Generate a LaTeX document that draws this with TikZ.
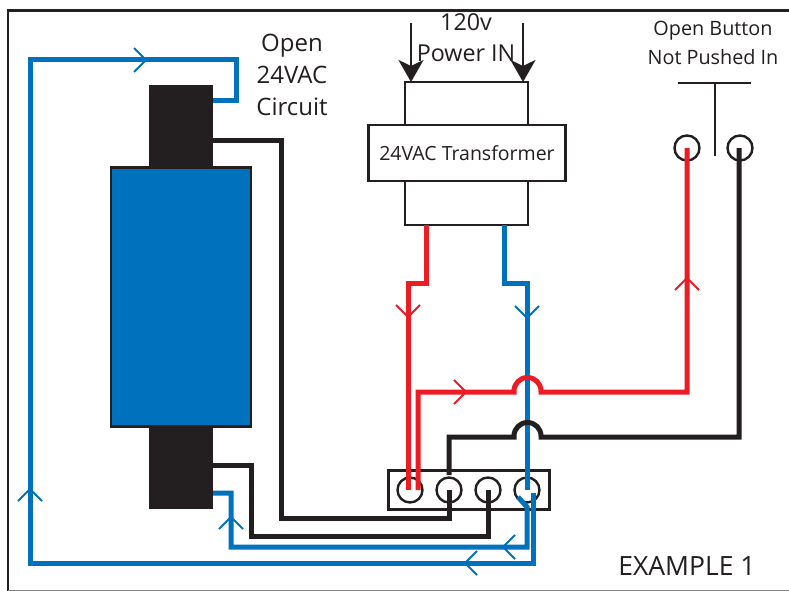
\documentclass[tikz,border=0pt]{standalone}
\usepackage{fontspec}
\setmainfont{Open Sans}
\usetikzlibrary{arrows.meta}
\definecolor{wblue}{HTML}{0071BC}
\definecolor{wred}{HTML}{ED1C24}
\definecolor{wblack}{HTML}{231F20}
\tikzset{
  wire/.style={line width=5pt,miter limit=10},
  bluewire/.style={wire,draw=wblue},
  redwire/.style={wire,draw=wred},
  blackwire/.style={wire,draw=wblack},
  outline/.style={draw=wblack,line width=2.4pt,fill=white,outer sep=0pt},
  term/.style={circle,draw=wblack,line width=2.4pt,minimum size=25pt,inner sep=0pt},
  label/.style={text=wblack,align=center,inner sep=0pt,font=\fontsize{24}{32}\selectfont},
  chev/.style={line width=2pt,line cap=butt},
  bigarrow/.style={draw=wblack,line width=2.2pt,-{Stealth[length=22pt,width=25pt,inset=6pt]}}
}
\newcommand{\chevup}[3]{\draw[chev,draw=#3] (#1-12,#2+12) -- (#1,#2) -- (#1+12,#2+12);}
\newcommand{\chevdown}[3]{\draw[chev,draw=#3] (#1-12,#2-12) -- (#1,#2) -- (#1+12,#2-12);}
\newcommand{\chevright}[3]{\draw[chev,draw=#3] (#1-12,#2-12) -- (#1,#2) -- (#1-12,#2+12);}
\newcommand{\chevleft}[3]{\draw[chev,draw=#3] (#1+12,#2-12) -- (#1,#2) -- (#1+12,#2+12);}
\begin{document}
\begin{tikzpicture}[x=1pt,y=-1pt]
\useasboundingbox (0,0) rectangle (789,591);
\fill[white] (0,0) rectangle (789,591);
% frame
\draw[wblack,line width=2.6pt] (8,592) -- (8,10.5) -- (789,10.5);
\draw[gray,line width=1pt] (8,590.5) -- (789,590.5);
% coil
\node[draw=none,fill=wblack,outer sep=0pt,minimum width=64pt,minimum height=424pt,inner sep=0pt,anchor=north west] (core) at (149,85) {};
\node[draw=wblack,line width=2.4pt,fill=wblue,outer sep=0pt,minimum width=140pt,minimum height=259pt,inner sep=0pt,anchor=north west] (coil) at (111,167.5) {};
% transformer
\node[outline,minimum width=123pt,minimum height=143pt,inner sep=0pt,anchor=north west] (xfcore) at (405,82) {};
\node[outline,minimum width=197pt,minimum height=56pt,inner sep=0pt,anchor=north west,font=\fontsize{19.5}{24}\selectfont,text=wblack] (xf) at (368.5,125) {24VAC Transformer};
% terminal block
\node[outline,minimum width=161pt,minimum height=39pt,inner sep=0pt,anchor=north west] (block) at (388.5,470.5) {};
\node[term] (t1) at (410,490) {};
\node[term] (t2) at (449,490) {};
\node[term] (t3) at (488,490) {};
\node[term] (t4) at (527,490) {};
% button
\node[term] (b1) at (687,148) {};
\node[term] (b2) at (740,148) {};
\coordinate (bl) at (678,83);
\coordinate (br) at (751,83);
\coordinate (bm) at (715,83);
\coordinate (bs) at (715,156);
\draw[wblack,line width=2pt] (bl) -- (br);
\draw[wblack,line width=2pt] (bm) -- (bs);
% power arrows
\coordinate (p1) at (411,23);
\coordinate (p2) at (523,23);
\draw[bigarrow] (p1) -- (411,82);
\draw[bigarrow] (p2) -- (523,82);
% blue wires
\draw[bluewire] (213,101) -- (236,101) -- (236,60) -- (30,60) -- (30,563) -- (533,563) -- (533,493);
\draw[bluewire] (213,493) -- (231,493) -- (231,547) -- (527,547) -- (527,507) -- (518,497);
\draw[bluewire] (504,225) -- (504,283) -- (527,283) -- (527,490);
% black wires
\draw[blackwire] (213,140) -- (281,140) -- (281,518) -- (449,518) -- (449,490);
\draw[blackwire] (213,465) -- (251,465) -- (251,536) -- (488,536) -- (488,490);
\draw[blackwire] (449,475) -- (449,437) -- (514,437) -- (514,436) arc[start angle=180,end angle=360,radius=13.5] -- (541,437) -- (739,437) -- (739,148);
% red wires
\draw[redwire] (418,490) -- (418,392) -- (514,392) -- (514,391) arc[start angle=180,end angle=360,radius=13.5] -- (541,392) -- (687,392) -- (687,148);
\draw[redwire] (426,225) -- (426,283) -- (408,283) -- (408,490);
% chevrons
\chevright{146}{60}{wblue}
\chevup{30}{489}{wblue}
\chevup{231}{517}{wblue}
\chevleft{503}{547}{wblue}
\chevleft{465}{563}{wblue}
\chevdown{527}{318}{wblue}
\chevdown{408}{317}{wred}
\chevright{466}{392}{wred}
\chevup{687}{278}{wred}
% labels
\node[label] (open) at (292,75) {Open\\24VAC\\Circuit};
\node[label,font=\fontsize{23.3}{31}\selectfont] (pw) at (466,38) {120v\\Power IN};
\node[label,font=\fontsize{19.8}{29}\selectfont] (btn) at (713,43) {Open Button\\Not Pushed In};
\node[label,font=\fontsize{26.5}{30}\selectfont] (ex) at (687,566) {EXAMPLE 1};
\end{tikzpicture}
\end{document}
